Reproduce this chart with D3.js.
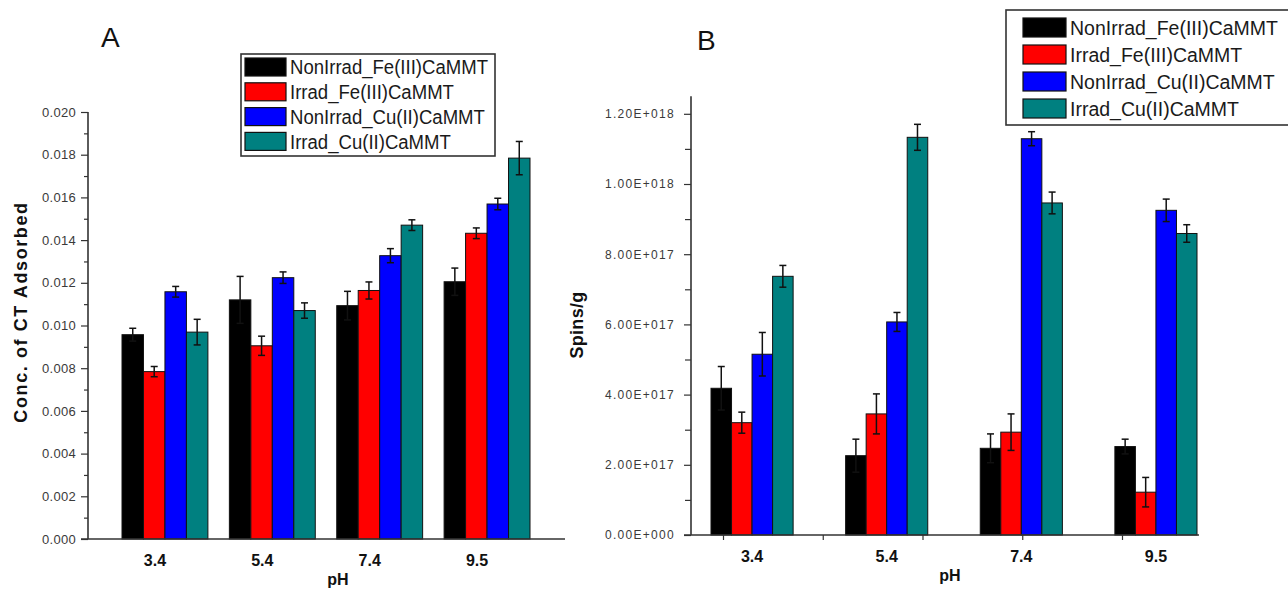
<!DOCTYPE html>
<html>
<head>
<meta charset="utf-8">
<script src="https://cdn.jsdelivr.net/npm/d3@7/dist/d3.min.js"></script>
<style>
  html, body { margin: 0; padding: 0; background: #ffffff; }
  svg { display: block; }
</style>
</head>
<body>
<svg id="chart" width="1288" height="591"></svg>
<script>
// ---------------- DATA ----------------
const categories = ["3.4", "5.4", "7.4", "9.5"];
const seriesNames = ["NonIrrad_Fe(III)CaMMT", "Irrad_Fe(III)CaMMT", "NonIrrad_Cu(II)CaMMT", "Irrad_Cu(II)CaMMT"];
const seriesColors = ["#000000", "#ff0000", "#0000ff", "#008080"];

// Panel A: Conc. of CT Adsorbed
const concNonIrradFe = [0.00957, 0.01120, 0.01093, 0.01205];
const concIrradFe    = [0.00784, 0.00905, 0.01164, 0.01432];
const concNonIrradCu = [0.01158, 0.01224, 0.01327, 0.01569];
const concIrradCu    = [0.00969, 0.01070, 0.01470, 0.01784];
const concErrNonIrradFe = [0.00030, 0.00110, 0.00067, 0.00064];
const concErrIrradFe    = [0.00024, 0.00045, 0.00040, 0.00025];
const concErrNonIrradCu = [0.00025, 0.00027, 0.00033, 0.00027];
const concErrIrradCu    = [0.00060, 0.00036, 0.00025, 0.00078];
const concTicks = [0, 0.002, 0.004, 0.006, 0.008, 0.010, 0.012, 0.014, 0.016, 0.018, 0.020];

// Panel B: Spins/g
const spinsNonIrradFe = [4.18e17, 2.26e17, 2.47e17, 2.52e17];
const spinsIrradFe    = [3.20e17, 3.45e17, 2.93e17, 1.22e17];
const spinsNonIrradCu = [5.15e17, 6.07e17, 11.29e17, 9.25e17];
const spinsIrradCu    = [7.37e17, 11.33e17, 9.46e17, 8.59e17];
const spinsErrNonIrradFe = [0.62e17, 0.47e17, 0.41e17, 0.21e17];
const spinsErrIrradFe    = [0.30e17, 0.57e17, 0.52e17, 0.42e17];
const spinsErrNonIrradCu = [0.62e17, 0.27e17, 0.20e17, 0.32e17];
const spinsErrIrradCu    = [0.31e17, 0.37e17, 0.31e17, 0.25e17];
const spinsTicks = [0, 2e17, 4e17, 6e17, 8e17, 10e17, 12e17];
const spinsTickLabels = ["0.00E+000", "2.00E+017", "4.00E+017", "6.00E+017", "8.00E+017", "1.00E+018", "1.20E+018"];

// ---------------- DRAW ----------------
const svg = d3.select("#chart");
const AXIS = "#333333";

function buildRows(vals, errs) {
  const rows = [];
  categories.forEach((c, ci) => {
    seriesNames.forEach((s, si) => {
      rows.push({cat: c, series: s, si: si, value: vals[si][ci], err: errs[si][ci]});
    });
  });
  return rows;
}

function panel(cfg) {
  const g = svg.append("g");
  const x0 = d3.scaleBand().domain(categories).range(cfg.bandRange).paddingInner(cfg.padInner).paddingOuter(0);
  const x1 = d3.scaleBand().domain(seriesNames).range([0, x0.bandwidth()]).padding(0);
  const y = d3.scaleLinear().domain(cfg.yDomain).range([cfg.yBottom, cfg.yTop]);
  const rows = buildRows(cfg.values, cfg.errors);

  g.selectAll("rect.bar").data(rows).join("rect")
    .attr("class", "bar")
    .attr("x", d => x0(d.cat) + x1(d.series))
    .attr("y", d => y(d.value))
    .attr("width", x1.bandwidth())
    .attr("height", d => y(0) - y(d.value))
    .attr("fill", d => seriesColors[d.si])
    .attr("stroke", "#111")
    .attr("stroke-width", 1);

  const eb = g.selectAll("g.err").data(rows).join("g").attr("class", "err")
    .attr("stroke", "#111").attr("stroke-width", 1.5);
  const cx = d => x0(d.cat) + x1(d.series) + x1.bandwidth() / 2;
  eb.append("line").attr("x1", cx).attr("x2", cx)
    .attr("y1", d => y(d.value - d.err)).attr("y2", d => y(d.value + d.err));
  eb.append("line").attr("x1", d => cx(d) - 3.5).attr("x2", d => cx(d) + 3.5)
    .attr("y1", d => y(d.value + d.err)).attr("y2", d => y(d.value + d.err));
  eb.append("line").attr("x1", d => cx(d) - 3.5).attr("x2", d => cx(d) + 3.5)
    .attr("y1", d => y(d.value - d.err)).attr("y2", d => y(d.value - d.err));

  const minorAxis = d3.axisLeft(y).tickValues(cfg.minorTicks).tickSize(cfg.minorSize).tickFormat("");
  const gm = g.append("g").attr("transform", `translate(${cfg.axisX},0)`).call(minorAxis);
  gm.select(".domain").remove();
  gm.selectAll("line").attr("stroke", AXIS).attr("stroke-width", 1.2);

  const yAxis = d3.axisLeft(y).tickValues(cfg.ticks).tickSize(cfg.majorSize).tickPadding(cfg.tickPad)
    .tickFormat(cfg.tickFormat);
  const gy = g.append("g").attr("transform", `translate(${cfg.axisX},0)`).call(yAxis);
  gy.select(".domain").remove();
  gy.selectAll("line").attr("stroke", AXIS).attr("stroke-width", 1.2);
  gy.selectAll("text").attr("fill", "#3a3a3a")
    .style("font-family", "'Liberation Sans', Arial, sans-serif")
    .style("font-size", cfg.tickFont + "px")
    .style("letter-spacing", cfg.tickSpacing + "px");

  g.append("line").attr("x1", cfg.axisX).attr("x2", cfg.axisX)
    .attr("y1", y(cfg.yDomain[1]) ).attr("y2", y(0))
    .attr("stroke", AXIS).attr("stroke-width", 1.6);
  g.append("line").attr("x1", cfg.axisX - cfg.majorSize).attr("x2", cfg.xAxisEnd)
    .attr("y1", y(0)).attr("y2", y(0))
    .attr("stroke", AXIS).attr("stroke-width", 1.6);

  g.selectAll("text.xl").data(categories).join("text").attr("class", "xl")
    .attr("x", d => x0(d) + x0.bandwidth() / 2 + cfg.labelShift)
    .attr("y", y(0) + 27)
    .attr("text-anchor", "middle")
    .attr("fill", "#111")
    .style("font-family", "'Liberation Sans', Arial, sans-serif")
    .style("font-weight", "bold")
    .style("font-size", "16px")
    .text(d => d);

  g.append("text").attr("x", cfg.xTitleX).attr("y", y(0) + 46)
    .attr("text-anchor", "middle").attr("fill", "#111")
    .style("font-family", "'Liberation Sans', Arial, sans-serif")
    .style("font-weight", "bold").style("font-size", "16px")
    .text("pH");

  g.append("text")
    .attr("transform", `translate(${cfg.yTitleX},${cfg.yTitleY}) rotate(-90)`)
    .attr("text-anchor", "middle").attr("fill", "#111")
    .style("font-family", "'Liberation Sans', Arial, sans-serif")
    .style("font-weight", "bold").style("font-size", cfg.yTitleSize + "px")
    .style("letter-spacing", cfg.yTitleSpacing + "px")
    .text(cfg.yTitle);

  g.append("text").attr("x", cfg.letterX).attr("y", cfg.letterY)
    .attr("fill", "#111")
    .style("font-family", "'Liberation Sans', Arial, sans-serif")
    .style("font-size", "28px")
    .text(cfg.letter);

  return {g, x0, y};
}

function legend(cfg) {
  const g = svg.append("g");
  g.append("rect").attr("x", cfg.x).attr("y", cfg.y).attr("width", cfg.w).attr("height", cfg.h)
    .attr("fill", "#fff").attr("stroke", "#333").attr("stroke-width", 1.6);
  const rows = g.selectAll("g.row").data(seriesNames).join("g").attr("class", "row")
    .attr("transform", (d, i) => `translate(0,${cfg.row0 + i * cfg.rowStep})`);
  rows.append("rect").attr("x", cfg.swX).attr("y", -cfg.swH / 2).attr("width", cfg.swW).attr("height", cfg.swH)
    .attr("fill", (d, i) => seriesColors[i]).attr("stroke", "#111").attr("stroke-width", 1.2);
  const texts = rows.append("text").attr("x", cfg.textX).attr("y", cfg.fontSize * 0.36)
    .attr("fill", "#1a1a1a")
    .style("font-family", "'Liberation Sans', Arial, sans-serif")
    .style("font-size", cfg.fontSize + "px")
    .text(d => d);
  const first = texts.nodes()[0].getComputedTextLength();
  const factor = cfg.firstWidth / first;
  texts.each(function () {
    const w = this.getComputedTextLength();
    d3.select(this).attr("textLength", w * factor).attr("lengthAdjust", "spacingAndGlyphs");
  });
}

// Panel A
panel({
  bandRange: [122, 530], padInner: 0.2,
  yDomain: [0, 0.020], yBottom: 539, yTop: 112,
  values: [concNonIrradFe, concIrradFe, concNonIrradCu, concIrradCu],
  errors: [concErrNonIrradFe, concErrIrradFe, concErrNonIrradCu, concErrIrradCu],
  ticks: concTicks,
  minorTicks: d3.range(0.001, 0.020, 0.002),
  minorSize: 4, majorSize: 7, tickPad: 5, tickFont: 13, tickSpacing: 0.3,
  tickFormat: d3.format(".3f"),
  axisX: 88, xAxisEnd: 565, labelShift: -10,
  xTitleX: 338, yTitleX: 27, yTitleY: 312, yTitle: "Conc. of  CT Adsorbed", yTitleSize: 18, yTitleSpacing: 1.6,
  letter: "A", letterX: 101, letterY: 47
});

// Panel B
const pB = panel({
  bandRange: [711, 1197], padInner: 0.39,
  yDomain: [0, 1.25e18], yBottom: 535, yTop: 535 - 12.5 * 35.1,
  values: [spinsNonIrradFe, spinsIrradFe, spinsNonIrradCu, spinsIrradCu],
  errors: [spinsErrNonIrradFe, spinsErrIrradFe, spinsErrNonIrradCu, spinsErrIrradCu],
  ticks: spinsTicks,
  minorTicks: d3.range(1e17, 12.5e17, 2e17),
  minorSize: 6, majorSize: 7, tickPad: 9, tickFont: 12, tickSpacing: 1.3,
  tickFormat: (d, i) => spinsTickLabels[i],
  axisX: 691, xAxisEnd: 1199, labelShift: 0,
  xTitleX: 950, yTitleX: 583, yTitleY: 325, yTitle: "Spins/g", yTitleSize: 18, yTitleSpacing: 0.3,
  letter: "B", letterX: 697, letterY: 50
});

// Panel B bottom small ticks (as in the original rendering)
const tickScaleB = d3.scaleLinear().domain([0, 4]).range([723, 1122]);
const gtb = svg.append("g").attr("transform", `translate(0,${pB.y(0)})`)
  .call(d3.axisBottom(tickScaleB).ticks(4).tickSize(5).tickFormat(""));
gtb.select(".domain").remove();
gtb.selectAll("line").attr("stroke", AXIS).attr("stroke-width", 1.2);

// Legends
legend({x: 241, y: 54, w: 254, h: 102, row0: 67, rowStep: 24.8,
        swX: 245, swW: 41, swH: 18, textX: 290, fontSize: 20, firstWidth: 198});
legend({x: 1006, y: 10, w: 300, h: 115, row0: 27.5, rowStep: 27,
        swX: 1023, swW: 43, swH: 19, textX: 1070, fontSize: 20, firstWidth: 208});
</script>
</body>
</html>
